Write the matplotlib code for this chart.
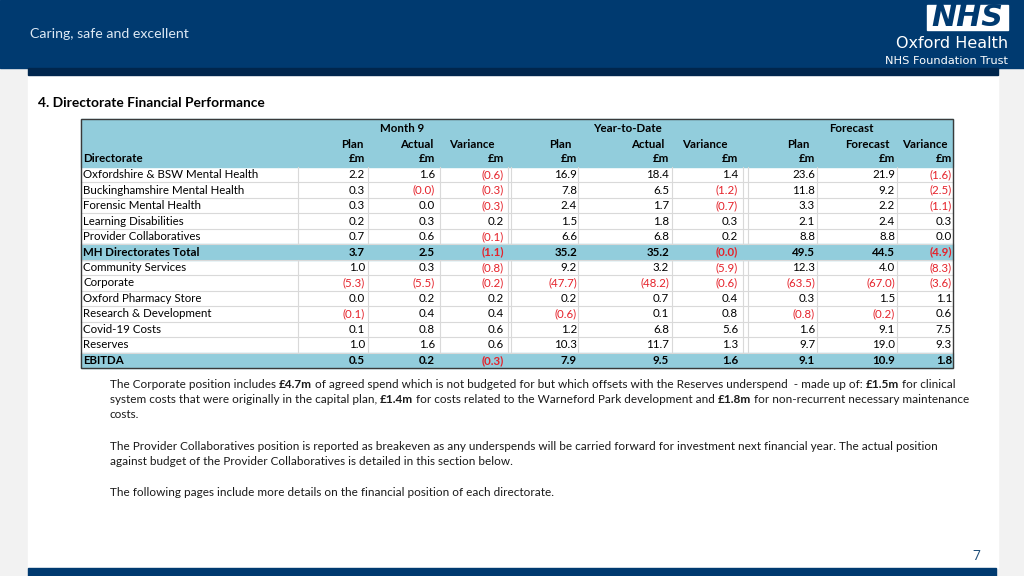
import numpy as np
import matplotlib
matplotlib.use("Agg")
import matplotlib.pyplot as plt
from matplotlib.patches import Rectangle
from matplotlib import font_manager

# ---------------- data ----------------
directorates = ["Oxfordshire & BSW Mental Health", "Buckinghamshire Mental Health",
                "Forensic Mental Health", "Learning Disabilities", "Provider Collaboratives",
                "MH Directorates Total", "Community Services", "Corporate",
                "Oxford Pharmacy Store", "Research & Development", "Covid-19 Costs",
                "Reserves", "EBITDA"]
bold_rows = ["MH Directorates Total", "EBITDA"]

m9_plan    = [2.2, 0.3, 0.3, 0.2, 0.7, 3.7, 1.0, -5.3, 0.0, -0.1, 0.1, 1.0, 0.5]
m9_actual  = [1.6, -0.0, 0.0, 0.3, 0.6, 2.5, 0.3, -5.5, 0.2, 0.4, 0.8, 1.6, 0.2]
m9_var     = [-0.6, -0.3, -0.3, 0.2, -0.1, -1.1, -0.8, -0.2, 0.2, 0.4, 0.6, 0.6, -0.3]
ytd_plan   = [16.9, 7.8, 2.4, 1.5, 6.6, 35.2, 9.2, -47.7, 0.2, -0.6, 1.2, 10.3, 7.9]
ytd_actual = [18.4, 6.5, 1.7, 1.8, 6.8, 35.2, 3.2, -48.2, 0.7, 0.1, 6.8, 11.7, 9.5]
ytd_var    = [1.4, -1.2, -0.7, 0.3, 0.2, -0.0, -5.9, -0.6, 0.4, 0.8, 5.6, 1.3, 1.6]
fc_plan    = [23.6, 11.8, 3.3, 2.1, 8.8, 49.5, 12.3, -63.5, 0.3, -0.8, 1.6, 9.7, 9.1]
fc_fcst    = [21.9, 9.2, 2.2, 2.4, 8.8, 44.5, 4.0, -67.0, 1.5, -0.2, 9.1, 19.0, 10.9]
fc_var     = [-1.6, -2.5, -1.1, 0.3, 0.0, -4.9, -8.3, -3.6, 1.1, 0.6, 7.5, 9.3, 1.8]

groups = ["Month 9", "Year-to-Date", "Forecast"]
sub_headers = ["Plan", "Actual", "Variance", "Plan", "Actual", "Variance",
               "Plan", "Forecast", "Variance"]
unit_label = "£m"

title = "4. Directorate Financial Performance"
tagline = "Caring, safe and excellent"
org1 = "Oxford Health"
org2 = "NHS Foundation Trust"
page_no = "7"

para_lines = [
    [("The Corporate position includes ", False), ("£4.7m", True),
     (" of agreed spend which is not budgeted for but which offsets with the Reserves underspend  - made up of: ", False),
     ("£1.5m", True), (" for clinical", False)],
    [("system costs that were originally in the capital plan, ", False), ("£1.4m", True),
     (" for costs related to the Warneford Park development and ", False), ("£1.8m", True),
     (" for non-recurrent necessary maintenance", False)],
    [("costs.", False)],
    None,
    [("The Provider Collaboratives position is reported as breakeven as any underspends will be carried forward for investment next financial year. The actual position", False)],
    [("against budget of the Provider Collaboratives is detailed in this section below.", False)],
    None,
    [("The following pages include more details on the financial position of each directorate.", False)],
]

# ---------------- fonts ----------------
def have(f):
    try:
        font_manager.findfont(f, fallback_to_default=False)
        return True
    except Exception:
        return False

narrow = "Liberation Sans Narrow" if have("Liberation Sans Narrow") else "Lato"
tbl_font = "Lato" if have("Lato") else "DejaVu Sans"

# ---------------- figure ----------------
fig = plt.figure(figsize=(10.24, 5.76), dpi=100)
ax = fig.add_axes([0, 0, 1, 1])
ax.set_xlim(0, 1024)
ax.set_ylim(576, 0)
ax.axis("off")
renderer = fig.canvas.get_renderer()


def text_w(text, size, **kw):
    p = ax.text(0, -100, text, fontsize=size, **kw)
    w = p.get_window_extent(renderer).width
    p.remove()
    return w


def fit_size(text, width, **kw):
    return 10 * width / text_w(text, 10, **kw)


NAVY = "#003A70"
ax.add_patch(Rectangle((0, 0), 1024, 576, color="#F2F2F2", zorder=0))
ax.add_patch(Rectangle((28, 75), 970, 493, color="white", zorder=0))
ax.add_patch(Rectangle((0, 0), 1024, 68, color=NAVY, zorder=1))
ax.add_patch(Rectangle((28, 68), 970, 7, color="#00264D", zorder=1))
ax.add_patch(Rectangle((28, 568), 968, 8, color=NAVY, zorder=1))

ax.text(30, 34, tagline, color="#DCE8F4", fontsize=fit_size(tagline, 158, family="Lato"),
        family="Lato", va="center", ha="left")
# logo
ax.add_patch(Rectangle((927, 5), 81, 25, color="white", zorder=2))
ax.text(967.5, 18, "NHS", color=NAVY, fontsize=fit_size("NHS", 72, family="DejaVu Sans", fontweight="bold", style="italic"),
        fontweight="bold", style="italic", family="DejaVu Sans", ha="center", va="center", zorder=3)
ax.text(1008, 48.5, org1, color="white", fontsize=11.5, family="DejaVu Sans",
        ha="right", va="baseline")
ax.text(1008, 63.5, org2, color="white", fontsize=8.2, family="DejaVu Sans",
        ha="right", va="baseline")

ax.text(38, 103, title, fontsize=fit_size(title, 226, family=tbl_font, fontweight="bold"),
        fontweight="bold", family=tbl_font, va="center", ha="left")

# ---------------- table ----------------
tfs = fit_size(directorates[0], 176, family=tbl_font)

L, R, T, B = 81, 953, 119, 368
hdr_bottom = 167
row_h = (B - hdr_bottom) / len(directorates)
HDR = "#92CDDC"
GRID = "#D9D9D9"
RED = "#E5232B"

ax.add_patch(Rectangle((L, T), R - L, hdr_bottom - T, color=HDR, zorder=2))
for i, name in enumerate(directorates):
    if name in bold_rows:
        ax.add_patch(Rectangle((L, hdr_bottom + i * row_h), R - L, row_h, color=HDR, zorder=2))

for i in range(1, len(directorates)):
    y = hdr_bottom + i * row_h
    ax.plot([L, R], [y, y], color=GRID, lw=0.8, zorder=3)
vlines = [298, 368, 440, 508, 511, 578, 672, 743, 748, 817, 897]
for i, name in enumerate(directorates):
    if name in bold_rows:
        continue
    y0 = hdr_bottom + i * row_h
    for x in vlines:
        ax.plot([x, x], [y0, y0 + row_h], color=GRID, lw=0.8, zorder=3)
ax.add_patch(Rectangle((L, T), R - L, B - T, fill=False, ec="#3A3A3A", lw=1.0, zorder=5))

group_centers = [402, 627, 851]
for g, cx in zip(groups, group_centers):
    ax.text(cx, 129, g, fontsize=tfs, fontweight="bold", family=tbl_font, ha="center", va="center", zorder=6)
val_right = [365, 435, 504, 577, 669, 738, 815, 895, 952]
hdr_right = [363, 433, 495, 572, 664, 728, 810, 890, 948]
for s, xr in zip(sub_headers, hdr_right):
    ax.text(xr, 144, s, fontsize=tfs, fontweight="bold", family=tbl_font, ha="right", va="center", zorder=6)
for xr in val_right:
    ax.text(xr, 159, unit_label, fontsize=tfs, fontweight="bold", family=tbl_font, ha="right", va="center", zorder=6)
ax.text(83, 159, "Directorate", fontsize=tfs, fontweight="bold", family=tbl_font, ha="left", va="center", zorder=6)

cols = [m9_plan, m9_actual, m9_var, ytd_plan, ytd_actual, ytd_var, fc_plan, fc_fcst, fc_var]


def fmt(v):
    if np.signbit(v):
        return "(%.1f)" % abs(v), RED
    return "%.1f" % v, "black"


for i, name in enumerate(directorates):
    yc = hdr_bottom + (i + 0.5) * row_h
    fw = "bold" if name in bold_rows else "normal"
    ax.text(83, yc, name, fontsize=tfs, fontweight=fw, family=tbl_font, ha="left", va="center", zorder=6)
    for col, xr in zip(cols, val_right):
        s, c = fmt(col[i])
        ax.text(xr, yc, s, fontsize=tfs, fontweight=fw, family=tbl_font, color=c,
                ha="right", va="center", zorder=6)


# ---------------- paragraph ----------------
def draw_runs(x, y, runs, size, draw=True):
    x0 = x
    for s, b in runs:
        t = ax.text(x, y, s, fontsize=size, family=narrow, fontweight="bold" if b else "normal",
                    ha="left", va="center", color="#1A1A1A", zorder=6)
        w = t.get_window_extent(renderer).width
        if not draw:
            t.remove()
        x += w
    return x - x0


wtest = draw_runs(0, -50, para_lines[0], 10, draw=False)
pfs = 10 * (953 - 110) / wtest

line_y = [384, 399.5, 415, 430.5, 446, 461.5, 477, 492.5]
for ln, y in zip(para_lines, line_y):
    if ln is None:
        continue
    draw_runs(110, y, ln, pfs)

ax.text(980, 557, page_no, fontsize=10, color="#1F4E79", family="Open Sans", ha="right", va="center")

fig.savefig("out.png", dpi=100)
